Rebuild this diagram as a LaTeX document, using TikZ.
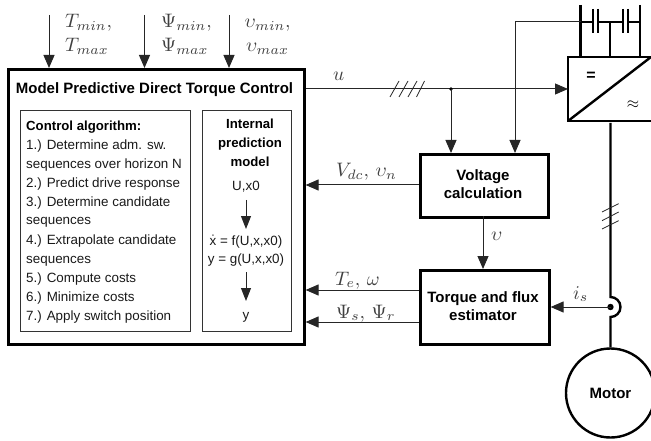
\documentclass[tikz,border=0pt]{standalone}
\usepackage{fontspec}
\setmainfont{Liberation Sans}
\usetikzlibrary{arrows.meta}
\definecolor{lab}{gray}{0.25}
\newcommand{\MM}[1]{\scalebox{1.95}{\normalsize$#1$}}
\tikzset{
  x=1pt,y=-1pt,
  thin line/.style={line width=1pt,draw=black!85},
  sig/.style={thin line,-{Triangle[length=13pt,width=11pt]}},
  sigs/.style={thin line,-{Triangle[length=13pt,width=10pt]}},
  thick box/.style={draw=black,line width=2.6pt},
  inner box/.style={draw=black!80,line width=1pt},
  power/.style={draw=black,line width=2.4pt},
  slash/.style={line width=.8pt,draw=black!85},
  txt/.style={font=\fontsize{13.4}{15}\selectfont,inner sep=0pt,text=black!90},
  btxt/.style={font=\fontsize{15}{17}\selectfont\bfseries,inner sep=0pt,text=black},
  bsm/.style={font=\fontsize{13.2}{15}\selectfont\bfseries,inner sep=0pt,text=black},
  mth/.style={inner sep=0pt,text=lab},
}
\begin{document}
\begin{tikzpicture}
\useasboundingbox (0,0) rectangle (651,441);
\clip (0,0) rectangle (651,441);
% blocks
\node[thick box,minimum width=296pt,minimum height=275pt,anchor=north west,inner sep=0pt] (mpc) at (7,68) {};
\node[thick box,minimum width=128pt,minimum height=63pt,anchor=north west,inner sep=0pt,align=center] (volt) at (419,153) {};
\node[thick box,minimum width=129pt,minimum height=74pt,anchor=north west,inner sep=0pt] (est) at (419,269) {};
\node[inner box,minimum width=170pt,minimum height=221pt,anchor=north west,inner sep=0pt] (alg) at (19.5,110) {};
\node[inner box,minimum width=89.5pt,minimum height=221pt,anchor=north west,inner sep=0pt] (ipm) at (201.5,110) {};
\node[btxt,anchor=base] (mpctitle) at (154.5,93.5) {Model Predictive Direct Torque Control};
\node[btxt,anchor=base] (v1) at (483,181) {Voltage};
\node[btxt,anchor=base] (v2) at (483,199) {calculation};
\node[btxt,anchor=base] (e1) at (483,302) {Torque and flux};
\node[btxt,anchor=base] (e2) at (483,320) {estimator};
% algorithm text
\node[bsm,anchor=base west] (a0) at (26,131) {Control algorithm:};
\node[txt,anchor=base west] (a1) at (26,150) {1.) Determine adm. sw.};
\node[txt,anchor=base west] (a2) at (26,169) {sequences over horizon N};
\node[txt,anchor=base west] (a3) at (26,188) {2.) Predict drive response};
\node[txt,anchor=base west] (a4) at (26,207) {3.) Determine candidate};
\node[txt,anchor=base west] (a5) at (26,225) {sequences};
\node[txt,anchor=base west] (a6) at (26,244) {4.) Extrapolate candidate};
\node[txt,anchor=base west] (a7) at (26,263) {sequences};
\node[txt,anchor=base west] (a8) at (26,282) {5.) Compute costs};
\node[txt,anchor=base west] (a9) at (26,301) {6.) Minimize costs};
\node[txt,anchor=base west] (a10) at (26,320) {7.) Apply switch position};
% prediction model text
\node[bsm,anchor=base] (i1) at (250,129) {Internal};
\node[bsm,anchor=base] (i2) at (250,148) {prediction};
\node[bsm,anchor=base] (i3) at (250,167) {model};
\node[txt,anchor=base] (i4) at (246,191) {U,x0};
\node[txt,anchor=base] (i5) at (246,245.7) {$\dot{\mathrm{x}}$ = f(U,x,x0)};
\node[txt,anchor=base] (i6) at (246,263.5) {y = g(U,x,x0)};
\node[txt,anchor=base] (i7) at (246,319) {y};
\coordinate (p1) at (246,200); \coordinate (p2) at (246,229);
\coordinate (p3) at (246,272); \coordinate (p4) at (246,301);
\draw[sigs] (p1) -- (p2);
\draw[sigs] (p3) -- (p4);
% top inputs
\coordinate (t1) at (49,15); \coordinate (t2) at (144.5,15); \coordinate (t3) at (229,15);
\draw[sig] (t1) -- (t1 |- mpc.north);
\draw[sig] (t2) -- (t2 |- mpc.north);
\draw[sig] (t3) -- (t3 |- mpc.north);
\node[mth,anchor=base west] (l1) at (65,28) {\MM{T_{min},}};
\node[mth,anchor=base west] (l2) at (65,52) {\MM{T_{max}}};
\node[mth,anchor=base west] (l3) at (161,28) {\MM{\Psi_{min},}};
\node[mth,anchor=base west] (l4) at (161,52) {\MM{\Psi_{max}}};
\node[mth,anchor=base west] (l5) at (244.5,28) {\MM{\upsilon_{min},}};
\node[mth,anchor=base west] (l6) at (246,52) {\MM{\upsilon_{max}}};
% converter
\coordinate (cnw) at (568,57); \coordinate (cse) at (655,121);
\draw[thick box] (cnw) rectangle (cse);
\draw[power] (568,121) -- (651,57);
\node[btxt,anchor=center,font=\fontsize{16}{16}\selectfont\bfseries] (eq) at (591,76) {=};
\node[btxt,anchor=center,font=\fontsize{14}{14}\selectfont] (apx) at (633,105) {\scalebox{1.1}{$\approx$}};
% DC link
\coordinate (d1) at (580.5,5); \coordinate (d2) at (610,22); \coordinate (d3) at (640,5);
\draw[power] (d1) -- (d1 |- cnw);
\draw[power] (d2) -- (d2 |- cnw);
\draw[power] (d3) -- (d3 |- cnw);
\draw[power] (580.5,22) -- (593,22) (598,22) -- (623,22) (628,22) -- (640,22);
\draw[power] (593,9) -- (593,33) (598,9) -- (598,33) (623,9) -- (623,33) (628,9) -- (628,33);
% u signal
\coordinate (dot) at (451,89);
\coordinate (conv) at (568,89);
\draw[sig] (mpc.east |- dot) -- (conv);
\fill[black] (dot) circle (1.8);
\draw[sig] (dot) -- (dot |- volt.north);
\draw[slash] (390,97) -- (399,81) (399,97) -- (408,81) (408,97) -- (417,81) (416.5,97) -- (424.5,81);
\node[mth,anchor=base west] (lu) at (333,81) {\MM{u}};
\coordinate (dc) at (515,22);
\draw[thin line] (580.5,22) -- (dc);
\draw[sig] (dc) -- (dc |- volt.north);
% feedback
\coordinate (vd) at (419,185);
\draw[sig] (vd) -- (vd -| mpc.east);
\node[mth,anchor=base west] (lvd) at (336,177) {\MM{V_{dc},\,\upsilon_n}};
\draw[sig] (483,216) -- (483,269);
\node[mth,anchor=base west] (lv) at (491,240.5) {\MM{\upsilon}};
\coordinate (te) at (419,290);
\coordinate (ps) at (419,322);
\draw[sig] (te) -- (te -| mpc.east);
\draw[sig] (ps) -- (ps -| mpc.east);
\node[mth,anchor=base west] (lte) at (335,285) {\MM{T_e,\,\omega}};
\node[mth,anchor=base west] (lps) at (336,318) {\MM{\Psi_s,\,\Psi_r}};
% motor
\node[draw=black,line width=2.4pt,circle,minimum size=89pt,inner sep=0pt] (motor) at (610.5,393) {};
\node[btxt,anchor=base] (mt) at (610.5,398) {Motor};
\coordinate (is) at (610.5,307);
\draw[power] (610.5,123) -- (610.5,297) arc[start angle=90,end angle=-90,radius=10pt] -- (motor.north);
\fill[black] (is) circle (3.2);
\draw[sig] (is) -- (is -| est.east);
\node[mth,anchor=base west] (lis) at (573,299) {\MM{i_s}};
\draw[slash] (602,212) -- (618.7,203.7) (602,220.7) -- (618.7,212) (602,229) -- (618.7,220.7);
\end{tikzpicture}
\end{document}
